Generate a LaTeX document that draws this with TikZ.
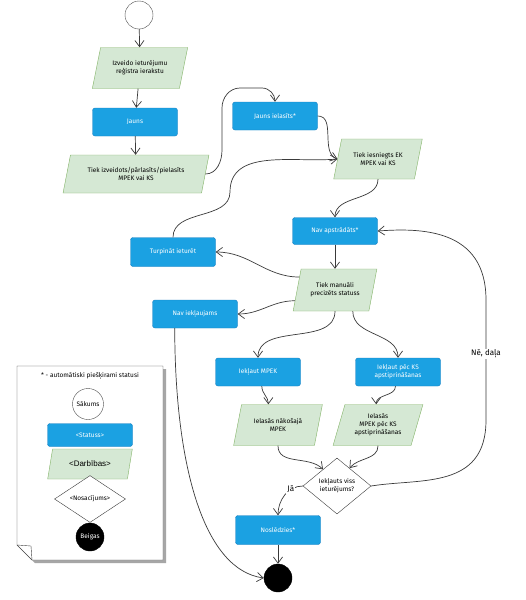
\documentclass[tikz,border=0pt]{standalone}
\usepackage{fontspec}
\setmainfont{Fira Sans}
\newfontfamily\arialfont{Liberation Sans}
\usepackage{tikz}
\usetikzlibrary{arrows.meta,positioning,shapes.geometric,shadows}
\definecolor{statusfill}{HTML}{1BA1E2}
\definecolor{statusline}{HTML}{1A7FC0}
\definecolor{actfill}{HTML}{D5E8D4}
\definecolor{actline}{HTML}{82B366}
\definecolor{wire}{HTML}{3A3A3A}

\begin{document}
\begin{tikzpicture}[
  x=1pt,y=-1pt,
  font=\fontsize{6.5}{8}\selectfont,
  status/.style={draw=statusline,fill=statusfill,text=white,rounded corners=2.5pt,minimum width=85pt,minimum height=28pt,align=center,inner sep=1pt},
  action/.style={trapezium,trapezium left angle=70,trapezium right angle=110,trapezium stretches=true,draw=actline,fill=actfill,align=center,inner sep=1pt,minimum height=41pt},
  decision/.style={diamond,draw=wire,fill=white,align=center,inner sep=0pt},
  startc/.style={circle,draw=black!70,fill=white,minimum size=28pt,inner sep=0pt},
  endcirc/.style={circle,draw=black,fill=black,minimum size=28pt,inner sep=0pt},
  arr/.style={-{Straight Barb[length=2.2mm,width=3.2mm]},draw=wire,line width=0.7pt},
  lbl/.style={fill=white,inner sep=1pt,font=\fontsize{8}{9}\selectfont}
]
\path[use as bounding box,fill=white] (0,0) rectangle (526,600);

% flow
\node[startc] (start) at (139,15) {};
\node[action,minimum width=96pt] (izveido) at (140,68) {Izveido ieturējumu\\reģistra ierakstu};
\node[status] (jauns) at (135,122) {Jauns};
\node[action,minimum width=146pt,minimum height=38pt] (tiekizv) at (136,174) {Tiek izveidots/pārlasīts/pielasīts\\MPEK vai KS};
\node[status] (jaunsiel) at (275,116) {Jauns ielasīts*};
\node[action,minimum width=89pt,minimum height=40pt] (tiekies) at (378,159) {Tiek iesniegts EK\\MPEK vai KS};
\node[status,minimum height=27pt] (navap) at (335,231) {Nav apstrādāts*};
\node[status,minimum height=29pt] (turpinat) at (173,252) {Turpināt ieturēt};
\node[action,minimum width=84pt,minimum height=42pt] (tiekman) at (335,290) {Tiek manuāli\\precizēts statuss};
\node[status] (naviek) at (195,314) {Nav iekļaujams};
\node[status] (ieklmpek) at (258,372) {Iekļaut MPEK};
\node[status] (ieklks) at (398,372) {Iekļaut pēc KS\\apstiprināšanas};
\node[action,minimum width=89pt] (ielnak) at (278,425) {Ielasās nākošajā\\MPEK};
\node[action,minimum width=90pt] (ielks) at (378,425) {Ielasās\\MPEK pēc KS\\apstiprināšanas};
\node[decision,minimum width=68pt,minimum height=56pt] (cond) at (337,486) {Iekļauts viss\\ieturējums?};
\node[status,minimum height=29pt] (noslegts) at (278,530) {Noslēdzies*};
\node[endcirc] (endc) at (278,578) {};

% legend
\fill[black!35] (20,369) -- (166,369) -- (166,563) -- (35,563) -- (20,548) -- cycle;
\draw[black!75,fill=white] (17,366) -- (163,366) -- (163,560) -- (32,560) -- (17,545) -- cycle;
\draw[black!75] (17,545) -- (31,546) -- (32,560);
\node (legnote) at (90,376) {* - automātiski piešķirami statusi};
\node[startc,minimum size=31pt] (legstart) at (88,404) {Sākums};
\node[status,minimum height=23pt] (legstatus) at (90,435) {<Statuss>};
\node[action,minimum width=85pt,minimum height=30pt,font=\arialfont\fontsize{8}{9}\selectfont] (legact) at (90,464) {<Darbības>};
\node[decision,minimum width=71pt,minimum height=36pt] (legcond) at (90,499) {<Nosacījums>};
\node[endcirc,text=white] (legend) at (90,537) {Beigas};

% connectors
\draw[arr] (start) -- (izveido);
\draw[arr] (izveido) -- (jauns);
\draw[arr] (jauns) -- (tiekizv);
\draw[arr] (tiekizv.east) to[out=0,in=-90] (222,150) -- (222,108) to[out=90,in=180] (240,88) -- (262,88) to[out=0,in=90] (jaunsiel.north);
\draw[arr] (jaunsiel.east) to[out=0,in=160] (tiekies.west);
\draw[arr] (turpinat.north) to[out=90,in=-90] (230,192) to[out=90,in=185] (tiekies.west);
\draw[arr] (tiekies.south) to[out=-90,in=90] (navap.north);
\draw[arr] (navap) -- (tiekman);
\draw[arr] (tiekman.160) to[out=180,in=0] (turpinat.east);
\draw[arr] (tiekman.195) to[out=180,in=0] (naviek.east);
\draw[arr] (tiekman.south) to[out=-90,in=90] (ieklmpek.north);
\draw[arr] (tiekman.-50) to[out=-90,in=90] (ieklks.north);
\draw[arr] (ieklmpek.-75) to[out=-90,in=90] (ielnak.115);
\draw[arr] (ieklks.-100) to[out=-90,in=90] (ielks.95);
\draw[arr] (ielnak.south) to[out=-90,in=135] (cond.130);
\draw[arr] (ielks.south) to[out=-90,in=50] (cond.55);
\draw[arr] (cond.west) to[out=180,in=90] node[lbl,pos=0.3] {Jā} (noslegts.north);
\draw[arr] (noslegts) -- (endc);
\draw[arr] (naviek.-145) .. controls (175,470) and (205,570) .. (endc.west);
\draw[arr] (cond.east) .. controls (420,478) and (486,490) .. (486,420) -- (486,300) node[lbl,pos=0.55] {Nē, daļa} .. controls (486,228) and (420,228) .. (navap.east);
\end{tikzpicture}
\end{document}
